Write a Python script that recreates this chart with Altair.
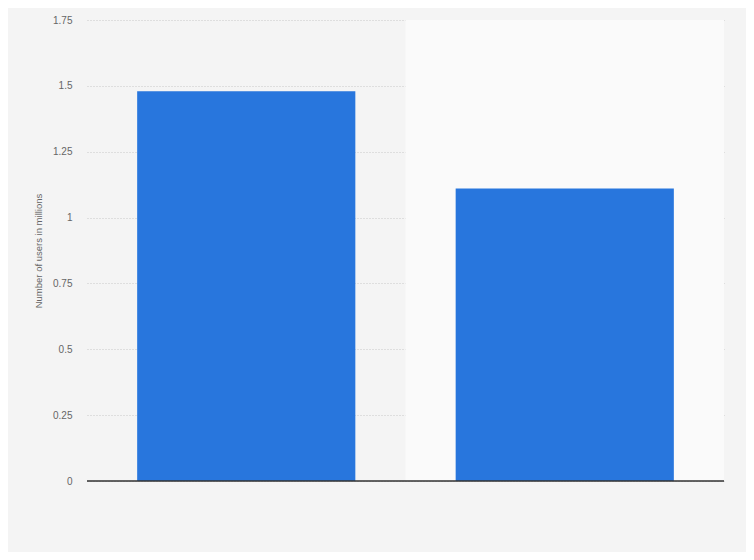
import altair as alt
import pandas as pd

categories = ["A", "B"]
users_millions = [1.48, 1.11]
highlight = ["B"]
y_ticks = [0, 0.25, 0.5, 0.75, 1, 1.25, 1.5, 1.75]

df = pd.DataFrame({"category": categories, "users": users_millions})
hl = pd.DataFrame({"category": highlight})

xscale = alt.Scale(domain=categories, paddingInner=0, paddingOuter=0)
yscale = alt.Scale(domain=[0, 1.75], nice=False)

band = alt.Chart(hl).mark_rect(color="#fafafa").encode(
    x=alt.X("category:N", scale=xscale, axis=None),
    y=alt.value(0),
    y2=alt.value(461),
)

bars = alt.Chart(df).mark_bar(color="#2876dd", width=alt.RelativeBandSize(0.685)).encode(
    x=alt.X("category:N", scale=xscale, axis=None),
    y=alt.Y(
        "users:Q",
        scale=yscale,
        axis=alt.Axis(
            title="Number of users in millions",
            values=y_ticks,
            labelExpr="'' + datum.value",
            domain=False,
            ticks=False,
            labelPadding=15,
            labelColor="#666666",
            labelFontSize=10,
            labelFont="Arial",
            titleFont="Arial",
            titleFontSize=9.5,
            titleFontWeight="normal",
            titleColor="#666666",
            titlePadding=9,
            gridColor="#c8c8c8",
            gridDash=[1, 2],
            gridWidth=1,
        ),
    ),
)

baseline = alt.Chart(df).mark_rule(color="#333333", strokeWidth=1.2).encode(
    x=alt.value(0), x2=alt.value(637), y=alt.value(461)
)

chart = (
    alt.layer(band, bars, baseline)
    .properties(
        width=637,
        height=461,
        background="#f4f4f4",
        padding={"left": 79, "top": 12, "right": 22, "bottom": 71},
        autosize=alt.AutoSizeParams(type="none"),
    )
    .configure_view(stroke=None)
)

chart.save("out.html", embed_options={"renderer": "svg", "actions": False})
